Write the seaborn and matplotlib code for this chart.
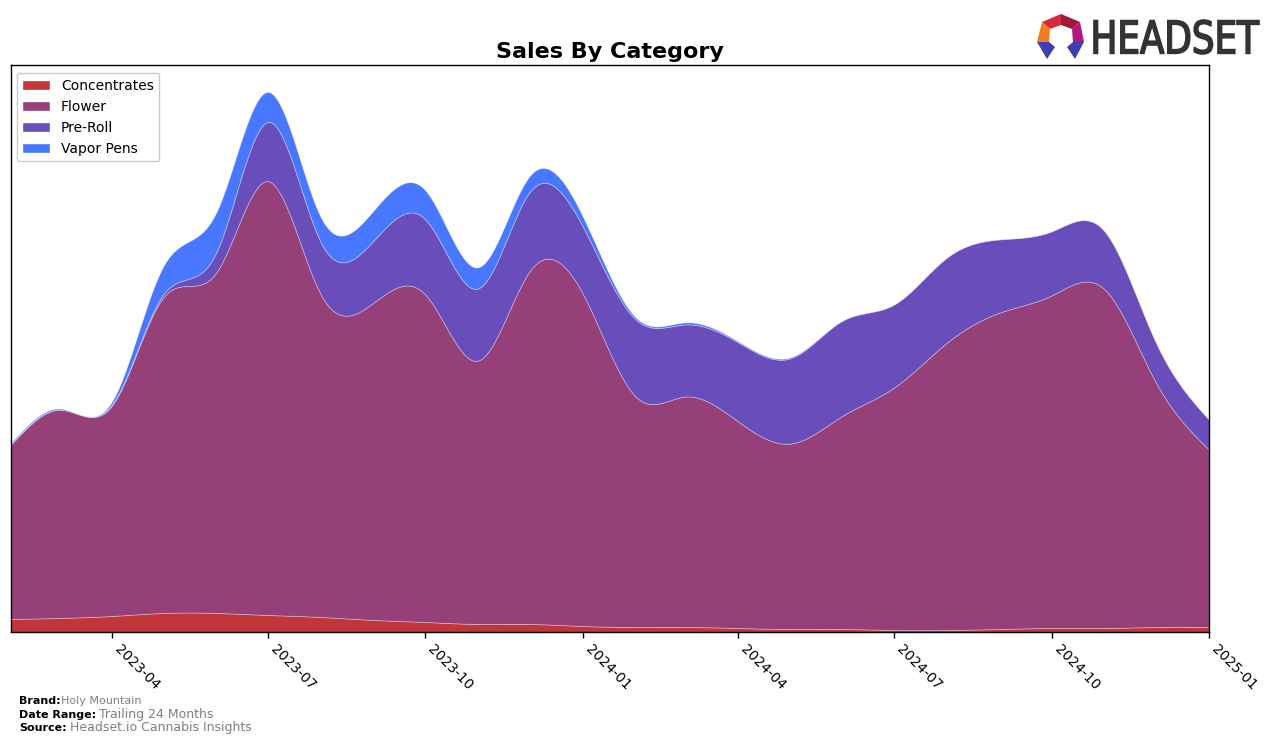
import numpy as np
import pandas as pd
import matplotlib
matplotlib.use("Agg")
import matplotlib.pyplot as plt
import matplotlib.dates as mdates
from matplotlib.patches import Polygon, PathPatch, Patch
from matplotlib.textpath import TextPath
from matplotlib.font_manager import FontProperties
from matplotlib.transforms import Affine2D, IdentityTransform
import seaborn as sns

# ---------------- data ----------------
months = pd.date_range("2023-02-01", "2025-01-01", freq="MS")
categories = ["Concentrates", "Flower", "Pre-Roll", "Vapor Pens"]
concentrates = [13, 14, 16, 19, 19, 17, 15, 12, 10, 8, 8, 6, 5, 5, 4, 3, 3, 2, 2, 3, 4, 4, 5, 5]
flower = [174, 208, 210, 315, 340, 433, 322, 317, 327, 263, 352, 332, 230, 230, 206, 185,
          213, 242, 287, 316, 332, 338, 244, 177]
pre_roll = [1, 0, 1, 3, 20, 59, 52, 62, 75, 72, 79, 67, 77, 72, 79, 85, 95, 83, 85, 73, 64,
            58, 40, 30]
vapor_pens = [1, 1, 3, 28, 40, 30, 25, 30, 29, 21, 16, 10, 2, 2, 1, 1, 0, 0, 0, 0, 0, 0, 0, 0]
colors = ["#C23538", "#96407A", "#684DBB", "#4878FF"]
tick_dates = pd.date_range("2023-04-01", "2025-01-01", freq="3MS")


def spline(x, y, xs):
    """natural cubic spline through (x, y), evaluated at xs (for smooth drawing)."""
    x = np.asarray(x, float)
    y = np.asarray(y, float)
    n = len(x)
    h = np.diff(x)
    A = np.zeros((n, n))
    b = np.zeros(n)
    A[0, 0] = 1
    A[-1, -1] = 1
    for i in range(1, n - 1):
        A[i, i - 1] = h[i - 1]
        A[i, i] = 2 * (h[i - 1] + h[i])
        A[i, i + 1] = h[i]
        b[i] = 6 * ((y[i + 1] - y[i]) / h[i] - (y[i] - y[i - 1]) / h[i - 1])
    M = np.linalg.solve(A, b)
    idx = np.clip(np.searchsorted(x, xs) - 1, 0, n - 2)
    x0, x1 = x[idx], x[idx + 1]
    hh = x1 - x0
    return (M[idx] * (x1 - xs) ** 3 / (6 * hh) + M[idx + 1] * (xs - x0) ** 3 / (6 * hh)
            + (y[idx] / hh - M[idx] * hh / 6) * (x1 - xs)
            + (y[idx + 1] / hh - M[idx + 1] * hh / 6) * (xs - x0))


sns.set_theme(style="white")
plt.rcParams["font.family"] = ["DejaVu Sans"]
plt.rcParams["text.color"] = "black"
plt.rcParams["axes.labelcolor"] = "black"
plt.rcParams["xtick.color"] = "black"

W, H = 1276, 743
fig = plt.figure(figsize=(W / 100, H / 100), dpi=100)
ax = fig.add_axes([11 / W, 1 - 632 / H, (1209 - 11) / W, (632 - 65) / H])

xnum = mdates.date2num(months.to_pydatetime())
xs = np.linspace(xnum[0], xnum[-1], 1500)
series = [concentrates, flower, pre_roll, vapor_pens]
smooth = [np.clip(spline(xnum, s, xs), 0, None) for s in series]
xs_dates = mdates.num2date(xs)

ax.stackplot(xs_dates, *smooth, colors=colors, labels=categories,
             linewidth=0.6, edgecolor=(1, 1, 1, 0.35))

ax.set_xlim(months[0], months[-1])
total_max = np.max(np.sum(smooth, axis=0))
ax.set_ylim(0, total_max * 1.05)
ax.set_yticks([])
ax.set_xticks(tick_dates)
ax.xaxis.set_major_formatter(mdates.DateFormatter("%Y-%m"))
ax.tick_params(axis="x", which="major", length=4, width=1, color="black",
               labelsize=10, labelcolor="black", direction="out", bottom=True)
for lab in ax.get_xticklabels():
    lab.set_rotation(-45)
    lab.set_ha("left")
for sp in ax.spines.values():
    sp.set_visible(True)
    sp.set_color("black")
    sp.set_linewidth(1)

ax.set_title("Sales By Category", fontsize=16, fontweight="bold", pad=5, color="black")

handles = [Patch(facecolor=c, label=l) for c, l in zip(colors, categories)]
leg = ax.legend(handles=handles, loc="upper left", fontsize=10, frameon=True,
                bbox_to_anchor=(0.0, 0.995), borderaxespad=0.4, handlelength=2,
                framealpha=1, edgecolor="#cccccc")
for t in leg.get_texts():
    t.set_color("black")

# footer
def ftext(px, py, s, **kw):
    fig.text(px / W, 1 - py / H, s, va="baseline", ha="left", **kw)

ftext(19, 704, "Brand:", fontsize=8, fontweight="bold", color="black")
ftext(61, 704, "Holy Mountain", fontsize=8, color="gray")
ftext(19, 718, "Date Range:", fontsize=8, fontweight="bold", color="black")
ftext(99, 718, "Trailing 24 Months", fontsize=9, color="gray")
ftext(19, 731, "Source:", fontsize=8, fontweight="bold", color="black")
ftext(70, 731, "Headset.io Cannabis Insights", fontsize=9, color="gray")

# logo
def pix(pts):
    return [(px, H - py) for px, py in pts]

pieces = [
    ([(1042, 22), (1061, 14), (1061, 25), (1050, 29)], "#D42A3C"),
    ([(1061, 14), (1080, 22), (1072, 29), (1061, 25)], "#A0173A"),
    ([(1080, 22), (1084, 42), (1073, 42), (1072, 29)], "#B5177E"),
    ([(1042, 22), (1050, 29), (1049, 42), (1037, 42)], "#F07D22"),
    ([(1037, 42), (1049, 42), (1055, 47), (1047, 59)], "#3E3FB0"),
    ([(1073, 42), (1084, 42), (1075, 59), (1067, 47)], "#3E3FB0"),
]
for pts, c in pieces:
    fig.patches.append(Polygon(pix(pts), closed=True, facecolor=c, edgecolor="none",
                               transform=IdentityTransform(), figure=fig))

tp = TextPath((0, 0), "HEADSET", size=1,
              prop=FontProperties(family="DejaVu Sans", weight="normal"))
ext = tp.get_extents()
x0, x1, ytop, ybot = 1094, 1259, 20, 54
tr = (Affine2D().translate(-ext.x0, -ext.y0)
      .scale((x1 - x0) / ext.width, (ybot - ytop) / ext.height)
      .translate(x0, H - ybot))
fig.patches.append(PathPatch(tr.transform_path(tp), facecolor="#333333", edgecolor="#333333",
                             linewidth=1.2, transform=IdentityTransform(), figure=fig))

fig.savefig("out.png", dpi=100)
